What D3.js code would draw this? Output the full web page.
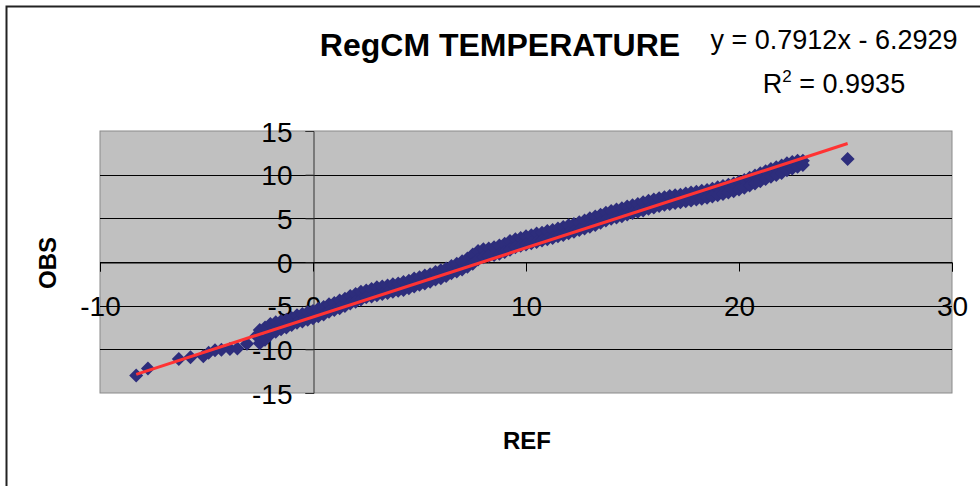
<html>
  <head>
    <meta charset="utf-8">
    <script type="text/javascript" src="https://cdnjs.cloudflare.com/ajax/libs/d3/7.8.5/d3.min.js"></script>
    <style>
      body { margin: 0; background: #fff; }
      text { font-family: "Liberation Sans", Arial, sans-serif; }
    </style>
  </head>
  <body>
    <script>
        // REF values (x)
        var refValues = [
            -8.3, -7.75, -6.3, -5.75, -5.15, -4.9, -4.6, -4.3, -3.9, -3.55, -3.1, -2.65,
            -2.5, -2.5, -2.25, -2.25, -2.0, -2.0, -1.75, -1.75, -1.5, -1.5, -1.25, -1.25,
            -1.0, -1.0, -0.75, -0.75, -0.5, -0.5, -0.25, -0.25, 0.0, 0.0, 0.25, 0.25,
            0.5, 0.5, 0.75, 0.75, 1.0, 1.0, 1.25, 1.25, 1.5, 1.5, 1.75, 1.75,
            2.0, 2.0, 2.25, 2.25, 2.5, 2.5, 2.75, 2.75, 3.0, 3.0, 3.25, 3.25,
            3.5, 3.5, 3.75, 3.75, 4.0, 4.0, 4.25, 4.25, 4.5, 4.5, 4.75, 4.75,
            5.0, 5.0, 5.25, 5.25, 5.5, 5.5, 5.75, 5.75, 6.0, 6.0, 6.25, 6.25,
            6.5, 6.5, 6.75, 6.75, 7.0, 7.0, 7.25, 7.25, 7.5, 7.5, 7.75, 7.75,
            8.0, 8.0, 8.25, 8.25, 8.5, 8.5, 8.75, 8.75, 9.0, 9.0, 9.25, 9.25,
            9.5, 9.5, 9.75, 9.75, 10.0, 10.0, 10.25, 10.25, 10.5, 10.5, 10.75, 10.75,
            11.0, 11.0, 11.25, 11.25, 11.5, 11.5, 11.75, 11.75, 12.0, 12.0, 12.25, 12.25,
            12.5, 12.5, 12.75, 12.75, 13.0, 13.0, 13.25, 13.25, 13.5, 13.5, 13.75, 13.75,
            14.0, 14.0, 14.25, 14.25, 14.5, 14.5, 14.75, 14.75, 15.0, 15.0, 15.25, 15.25,
            15.5, 15.5, 15.75, 15.75, 16.0, 16.0, 16.25, 16.25, 16.5, 16.5, 16.75, 16.75,
            17.0, 17.0, 17.25, 17.25, 17.5, 17.5, 17.75, 17.75, 18.0, 18.0, 18.25, 18.25,
            18.5, 18.5, 18.75, 18.75, 19.0, 19.0, 19.25, 19.25, 19.5, 19.5, 19.75, 19.75,
            20.0, 20.0, 20.25, 20.25, 20.5, 20.5, 20.75, 20.75, 21.0, 21.0, 21.25, 21.25,
            21.5, 21.5, 21.75, 21.75, 22.0, 22.0, 22.25, 22.25, 22.5, 22.5, 22.75, 22.75,
            23.0, 23.0, 25.1
        ];
        // OBS values (y), same order
        var obsValues = [
            -13.0, -12.2, -11.1, -10.9, -10.8, -10.4, -10.1, -10.05, -9.95, -9.9, -9.35, -8.45,
            -7.8, -9.3, -7.5, -8.9, -7.1, -8.3, -6.9, -8.0, -6.75, -7.7, -6.6, -7.5,
            -6.4, -7.2, -6.1, -6.95, -5.95, -6.8, -5.75, -6.6, -5.6, -6.45, -5.35, -6.2,
            -5.15, -6.0, -4.85, -5.7, -4.7, -5.5, -4.4, -5.3, -4.2, -5.05, -3.9, -4.75,
            -3.65, -4.55, -3.4, -4.3, -3.25, -4.05, -3.1, -3.95, -2.9, -3.8, -2.8, -3.65,
            -2.7, -3.55, -2.55, -3.4, -2.45, -3.3, -2.3, -3.2, -2.15, -3.0, -1.9, -2.8,
            -1.75, -2.6, -1.55, -2.45, -1.4, -2.25, -1.15, -2.0, -0.95, -1.85, -0.75, -1.6,
            -0.45, -1.3, -0.2, -1.1, 0.1, -0.85, 0.4, -0.55, 0.85, -0.2, 1.25, 0.3,
            1.45, 0.55, 1.55, 0.7, 1.7, 0.8, 1.9, 0.95, 2.1, 1.15, 2.4, 1.4,
            2.6, 1.7, 2.75, 1.85, 2.95, 2.0, 3.05, 2.15, 3.25, 2.3, 3.35, 2.45,
            3.55, 2.6, 3.65, 2.75, 3.85, 2.95, 4.0, 3.1, 4.2, 3.3, 4.35, 3.45,
            4.55, 3.65, 4.75, 3.85, 5.0, 4.05, 5.2, 4.25, 5.4, 4.5, 5.65, 4.75,
            5.85, 4.95, 6.0, 5.1, 6.15, 5.25, 6.35, 5.45, 6.5, 5.6, 6.65, 5.75,
            6.85, 5.9, 7.0, 6.1, 7.15, 6.25, 7.3, 6.4, 7.4, 6.55, 7.55, 6.65,
            7.65, 6.75, 7.7, 6.85, 7.85, 6.95, 7.95, 7.05, 8.05, 7.15, 8.15, 7.25,
            8.25, 7.35, 8.4, 7.5, 8.55, 7.65, 8.7, 7.8, 8.85, 7.95, 9.0, 8.1,
            9.2, 8.3, 9.4, 8.5, 9.65, 8.75, 9.9, 9.0, 10.15, 9.25, 10.4, 9.5,
            10.65, 9.75, 10.85, 9.95, 11.05, 10.2, 11.3, 10.5, 11.45, 10.7, 11.6, 10.9,
            11.6, 11.1, 11.8
        ];

        var xTicks = [-10, 0, 10, 20, 30];
        var yTicks = [-15, -10, -5, 0, 5, 10, 15];

        // trend line as printed on the chart
        var slope = 0.7912, intercept = -6.2929;
        var rSquared = 0.9935;

        var width = 980, height = 486;

        var svg = d3.select("body").append("svg")
            .attr("width", width)
            .attr("height", height);

        // chart border (left / top visible)
        svg.append("rect")
            .attr("x", 6.5).attr("y", 6.5)
            .attr("width", 1000).attr("height", 500)
            .attr("fill", "#fff")
            .attr("stroke", "#222")
            .attr("stroke-width", 2);

        var x = d3.scaleLinear().domain([-10, 30]).range([100, 952]);
        var y = d3.scaleLinear().domain([-15, 15]).range([393, 131]);

        // plot area
        svg.append("rect")
            .attr("x", x(-10)).attr("y", y(15))
            .attr("width", x(30) - x(-10)).attr("height", y(-15) - y(15))
            .attr("fill", "#c0c0c0")
            .attr("stroke", "#8a8a8a")
            .attr("stroke-width", 1);

        // horizontal gridlines
        svg.append("g").selectAll("line")
            .data(yTicks.filter(function(d) { return d > -15 && d < 15; }))
            .enter().append("line")
            .attr("x1", x(-10)).attr("x2", x(30))
            .attr("y1", function(d) { return Math.round(y(d)) + 0.5; })
            .attr("y2", function(d) { return Math.round(y(d)) + 0.5; })
            .attr("stroke", "#000")
            .attr("stroke-width", 1);

        var plainFormat = function(d) { return String(d); };

        // y axis at x = 0
        var yAxis = d3.axisLeft(y).tickValues(yTicks).tickSize(8).tickFormat(plainFormat);
        var gy = svg.append("g")
            .attr("transform", "translate(" + (Math.round(x(0)) + 0.5) + ",0)")
            .call(yAxis);
        gy.select(".domain").attr("stroke", "#333");
        gy.selectAll(".tick line").attr("stroke", "#333");
        gy.selectAll(".tick text")
            .attr("x", -21)
            .attr("dy", "0.36em")
            .style("font-size", "28px")
            .attr("fill", "#000");

        // x axis at y = 0
        var xAxis = d3.axisBottom(x).tickValues(xTicks).tickSize(9).tickFormat(plainFormat);
        var gx = svg.append("g")
            .attr("transform", "translate(0," + (Math.round(y(0)) + 0.5) + ")")
            .call(xAxis);
        gx.select(".domain").attr("stroke", "#000");
        gx.selectAll(".tick line").attr("stroke", "#000");
        gx.selectAll(".tick text")
            .attr("y", 34)
            .attr("dy", "0.71em")
            .style("font-size", "28px")
            .attr("fill", "#000");

        // points (diamonds)
        var points = refValues.map(function(r, i) { return [r, obsValues[i]]; });
        svg.append("g").selectAll("path")
            .data(points)
            .enter().append("path")
            .attr("d", "M0,-7L7,0L0,7L-7,0Z")
            .attr("transform", function(d) { return "translate(" + x(d[0]) + "," + y(d[1]) + ")"; })
            .attr("fill", "#2d2d7c");

        // linear trend line
        var xExtent = d3.extent(refValues);
        svg.append("line")
            .attr("x1", x(xExtent[0])).attr("y1", y(slope * xExtent[0] + intercept))
            .attr("x2", x(xExtent[1])).attr("y2", y(slope * xExtent[1] + intercept))
            .attr("stroke", "#f33")
            .attr("stroke-width", 3);

        // title
        svg.append("text")
            .attr("x", 500).attr("y", 56)
            .attr("text-anchor", "middle")
            .style("font-size", "32px")
            .style("font-weight", "bold")
            .text("RegCM TEMPERATURE");

        // equation
        svg.append("text")
            .attr("x", 834).attr("y", 49)
            .attr("text-anchor", "middle")
            .style("font-size", "27px")
            .text("y = " + slope + "x - " + Math.abs(intercept));

        var r2 = svg.append("text")
            .attr("x", 834).attr("y", 93)
            .attr("text-anchor", "middle")
            .style("font-size", "27px");
        r2.append("tspan").text("R");
        r2.append("tspan").attr("dy", -11).style("font-size", "17px").text("2");
        r2.append("tspan").attr("dy", 11).text(" = " + rSquared);

        // axis titles
        svg.append("text")
            .attr("transform", "translate(56,263) rotate(-90)")
            .attr("text-anchor", "middle")
            .style("font-size", "24px")
            .style("font-weight", "bold")
            .text("OBS");

        svg.append("text")
            .attr("x", 527).attr("y", 449)
            .attr("text-anchor", "middle")
            .style("font-size", "24px")
            .style("font-weight", "bold")
            .text("REF");
    </script>
  </body>
</html>
